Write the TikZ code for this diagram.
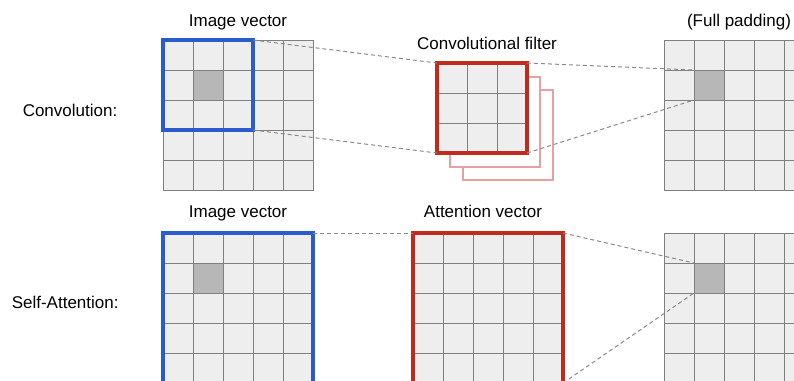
\documentclass[tikz,border=0pt]{standalone}
\usepackage{fontspec}
\setmainfont{Liberation Sans}
\definecolor{cellfill}{HTML}{EEEEEE}
\definecolor{gridline}{HTML}{7F7F7F}
\definecolor{cellshade}{HTML}{B7B7B7}
\definecolor{vecblue}{HTML}{2C5BCC}
\definecolor{filtred}{HTML}{C22A1E}
\definecolor{backred}{HTML}{E8A0A0}
\definecolor{connline}{HTML}{8A8A8A}

% A square grid of n x n cells (30 units each) with its top-left corner at (x,y)
% #1 name, #2 x, #3 y, #4 n, #5 list of inner line offsets
\newcommand\cellgrid[5]{%
  \node[cellbg, minimum width=#4*22.5pt, minimum height=#4*22.5pt] (#1) at (#2,#3) {};
  \foreach \k in {#5} {
    \draw[gridline] (#2+\k,#3) -- (#2+\k,#3+#4*30);
    \draw[gridline] (#2,#3+\k) -- (#2+#4*30,#3+\k);
  }
}

\begin{document}
\begin{tikzpicture}[x=0.75pt,y=-0.75pt,
  font=\fontsize{12.75}{15}\selectfont,
  cellbg/.style={rectangle, anchor=north west, inner sep=0pt, outer sep=0pt,
    fill=cellfill, draw=gridline, line width=0.75pt},
  gridline/.style={draw=gridline, line width=0.75pt},
  shadecell/.style={rectangle, anchor=north west, inner sep=0pt, outer sep=0pt,
    minimum size=22.5pt, fill=cellshade, draw=gridline, line width=0.75pt},
  bluebox/.style={rectangle, anchor=north west, inner sep=0pt, outer sep=0pt,
    draw=vecblue, line width=2.4pt},
  redbox/.style={rectangle, anchor=north west, inner sep=0pt, outer sep=0pt,
    draw=filtred, line width=2.4pt},
  backframe/.style={rectangle, anchor=north west, inner sep=0pt, outer sep=0pt,
    minimum size=67.5pt, fill=white, draw=backred, line width=1.5pt},
  conn/.style={draw=connline, line width=0.75pt, dash pattern=on 3pt off 2.25pt},
  caption/.style={anchor=base, inner sep=0pt},
  rowlabel/.style={anchor=base west, inner sep=0pt}]

\path[use as bounding box, clip] (0,0) rectangle (794,380);

% ---------- Convolution row ----------
\node[rowlabel] (convlabel) at (22.5,116) {Convolution:};

\node[caption] (imgcap1) at (238,26) {Image vector};
\cellgrid{img1}{163}{40}{5}{30,60,90,120}
\node[shadecell] (c1) at (193,70) {};
\node[bluebox, minimum size=67.5pt] (v1) at (163,40) {};

\node[caption] (filtcap) at (487,49.5) {Convolutional filter};
\node[backframe] (f3) at (463,90) {};
\node[backframe] (f2) at (450,77) {};
\cellgrid{filt}{437}{63}{3}{30,60}
\node[redbox, minimum size=67.5pt] (f1) at (437,63) {};

\node[caption] (padcap) at (739,26) {(Full padding)};
\cellgrid{out1}{664}{40}{5}{30,60,90,120}
\node[shadecell] (c2) at (694,70) {};

\draw[conn] (v1.north east) -- (f1.north west);
\draw[conn] (v1.south east) -- (f1.south west);
\draw[conn] (f1.north east) -- (c2.north west);
\draw[conn] (f1.south east) -- (c2.south west);

% ---------- Self-attention row ----------
\node[rowlabel] (attlabel) at (11.5,308) {Self-Attention:};

\node[caption] (imgcap2) at (238,217) {Image vector};
\cellgrid{img2}{163}{233}{5}{30,60,90,120}
\node[shadecell] (c3) at (193,263) {};
\node[bluebox, minimum size=112.5pt] (v2) at (163,233) {};

\node[caption] (attcap) at (483,217) {Attention vector};
\cellgrid{att}{413}{233}{5}{30,60,90,120}
\node[redbox, minimum size=112.5pt] (a1) at (413,233) {};

\cellgrid{out2}{664}{233}{5}{30,60,90,120}
\node[shadecell] (c4) at (694,263) {};

\draw[conn] (v2.north east) -- (a1.north west);
\draw[conn] (a1.north east) -- (c4.north west);
\draw[conn] (a1.south east) -- (c4.south west);

\end{tikzpicture}
\end{document}
